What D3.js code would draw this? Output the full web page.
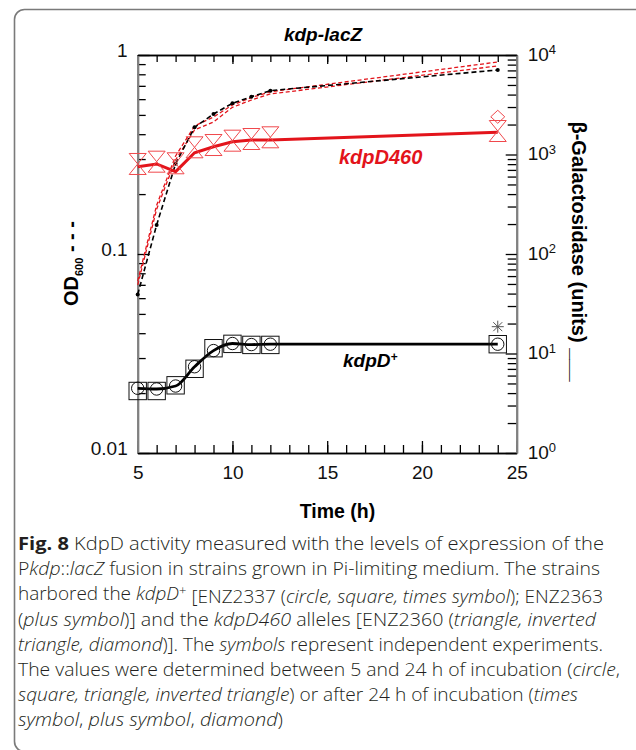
<!DOCTYPE html>
<html>
<head>
<meta charset="utf-8">
<script src="https://cdn.jsdelivr.net/npm/d3@7/dist/d3.min.js"></script>
<style>
  html, body { margin: 0; padding: 0; background: #fff; }
  svg { display: block; }
  .chart text { font-family: "Liberation Sans", Arial, sans-serif; }
  .cap text { font-family: "Open Sans", "Noto Sans", sans-serif; }
</style>
</head>
<body>
<svg id="fig" width="636" height="750"></svg>
<script>
// ---------------- data ----------------
const times = [5, 6, 7, 8, 9, 10, 11, 12, 24];

// OD600 (left axis)
const odWildType = [0.0626, 0.140, 0.284, 0.433, 0.505, 0.572, 0.617, 0.662, 0.841];
const odMutantA  = [0.0731, 0.176, 0.311, 0.440, 0.488, 0.561, 0.611, 0.654, 0.922];
const odMutantB  = [0.0699, 0.168, 0.297, 0.420, 0.461, 0.546, 0.594, 0.637, 0.881];

// beta-Galactosidase units (right axis), kdpD+
const galWildCircle = [4.47, 4.40, 4.71, 7.36, 10.7, 12.6, 12.3, 12.4, 12.4];
const galWildSquare = [4.20, 4.20, 4.79, 7.02, 11.3, 12.5, 12.2, 12.2, 12.4];
const galWildLate = [{ t: 24, v: 18.6 }];   // times symbol + plus symbol

// beta-Galactosidase units (right axis), kdpD460
const galMutantLine = [754, 803, 672, 1042, 1197, 1343, 1400, 1400, 1671];
const galMutantTri  = [803, 847, 816, 1181, 1245, 1377, 1431, 1489, 1722];
const galMutantInv  = [803, 847, 816, 1181, 1245, 1377, 1431, 1489, 1722];
const galMutantLate = [{ t: 24, v: 2393 }]; // diamond

const xTickLabels = [5, 10, 15, 20, 25];
const odTickLabels = [1, 0.1, 0.01];
const galTickLabels = [1, 10, 100, 1000, 10000];

const captionLines = [
  [["b", "Fig. 8"], ["n", "  KdpD activity measured with the levels of expression of the"]],
  [["n", "P"], ["i", "kdp"], ["n", "::"], ["i", "lacZ"], ["n", " fusion in strains grown in Pi-limiting medium. The strains"]],
  [["n", "harbored the "], ["i", "kdpD"], ["sup", "+"], ["n", " [ENZ2337 ("], ["i", "circle, square, times symbol"], ["n", "); ENZ2363"]],
  [["n", "("], ["i", "plus symbol"], ["n", ")] and the "], ["i", "kdpD460"], ["n", " alleles [ENZ2360 ("], ["i", "triangle, inverted"]],
  [["i", "triangle, diamond"], ["n", ")]. The "], ["i", "symbols"], ["n", " represent independent experiments."]],
  [["n", "The values were determined between 5 and 24 h of incubation ("], ["i", "circle"], ["n", ","]],
  [["i", "square, triangle, inverted triangle"], ["n", ") or after 24 h of incubation ("], ["i", "times"]],
  [["i", "symbol"], ["n", ", "], ["i", "plus symbol"], ["n", ", "], ["i", "diamond"], ["n", ")"]]
];
const captionWidths = [586, 582, 585, 578, 585, 602, 560, 265];

// ---------------- layout ----------------
const svg = d3.select("#fig");
const L = 137.7, R = 516.7, T = 55, B = 453;
const RED = "#e3141b";

// frame
svg.append("rect")
  .attr("x", 14.5).attr("y", 9.5).attr("width", 700).attr("height", 742)
  .attr("rx", 10).attr("ry", 10)
  .attr("fill", "none").attr("stroke", "#7a7a7a").attr("stroke-width", 1.6);

const chart = svg.append("g").attr("class", "chart");

const x = d3.scaleLinear().domain([5, 25]).range([L, R]);
const yL = d3.scaleLog().domain([0.01, 1]).range([B, T]);
const yR = d3.scaleLog().domain([1, 1e4]).range([B, T]);

function logMinors(d0, d1) {
  const out = [];
  for (let e = d0; e < d1; e++) for (let m = 2; m <= 9; m++) out.push(m * Math.pow(10, e));
  return out;
}
const hoursAll = d3.range(5, 26, 1);

function styleAxis(g, color, width) {
  g.select(".domain").attr("stroke", color).attr("stroke-width", width);
  g.selectAll(".tick line").attr("stroke", "#000").attr("stroke-width", 1.3);
}

// bottom axis
const gB1 = chart.append("g").attr("transform", `translate(0,${B})`)
  .call(d3.axisBottom(x).tickValues(hoursAll).tickSizeInner(-8).tickSizeOuter(0).tickFormat(""));
styleAxis(gB1, "#000", 1.6);
const gB2 = chart.append("g").attr("transform", `translate(0,${B})`)
  .call(d3.axisBottom(x).tickValues(xTickLabels).tickSizeInner(-12).tickSizeOuter(0).tickPadding(13).tickFormat(d3.format("d")));
styleAxis(gB2, "#000", 1.6);
gB2.selectAll(".tick text").attr("font-size", "19px").attr("fill", "#111");

// top axis
const gT1 = chart.append("g").attr("transform", `translate(0,${T})`)
  .call(d3.axisTop(x).tickValues(hoursAll).tickSizeInner(-7).tickSizeOuter(0).tickFormat(""));
styleAxis(gT1, "#000", 1.6);
const gT2 = chart.append("g").attr("transform", `translate(0,${T})`)
  .call(d3.axisTop(x).tickValues(xTickLabels).tickSizeInner(-9).tickSizeOuter(0).tickFormat(""));
styleAxis(gT2, "#000", 1.6);

// left axis
const gL1 = chart.append("g").attr("transform", `translate(${L},0)`)
  .call(d3.axisLeft(yL).tickValues(logMinors(-2, 0)).tickSizeInner(-8).tickSizeOuter(0).tickFormat(""));
styleAxis(gL1, "#808080", 2);
const gL2 = chart.append("g").attr("transform", `translate(${L},0)`)
  .call(d3.axisLeft(yL).tickValues(odTickLabels).tickSizeInner(-12).tickSizeOuter(0).tickPadding(10)
    .tickFormat(d => d === 1 ? "1" : String(d)));
styleAxis(gL2, "#808080", 2);
gL2.selectAll(".tick text").attr("font-size", "19px").attr("fill", "#111").attr("dy", "0.1em");

// right axis
const gR1 = chart.append("g").attr("transform", `translate(${R},0)`)
  .call(d3.axisRight(yR).tickValues(logMinors(0, 4)).tickSizeInner(-9).tickSizeOuter(0).tickFormat(""));
styleAxis(gR1, "#808080", 2);
const gR2 = chart.append("g").attr("transform", `translate(${R},0)`)
  .call(d3.axisRight(yR).tickValues(galTickLabels).tickSizeInner(-11).tickSizeOuter(0).tickPadding(11).tickFormat(""));
styleAxis(gR2, "#808080", 2);
gR2.selectAll(".tick text").each(function (d) {
  const t = d3.select(this).attr("font-size", "19px").attr("fill", "#111").attr("dy", "0.28em");
  t.append("tspan").text("10");
  t.append("tspan").attr("dy", "-0.5em").attr("font-size", "13px").text(Math.round(Math.log10(d)));
});

// ---------------- series ----------------
const odLine = d3.line().x((d, i) => x(times[i])).y(d => yL(d));
chart.append("path").datum(odMutantA).attr("d", odLine)
  .attr("fill", "none").attr("stroke", RED).attr("stroke-width", 1.3).attr("stroke-dasharray", "4,2.5");
chart.append("path").datum(odMutantB).attr("d", odLine)
  .attr("fill", "none").attr("stroke", RED).attr("stroke-width", 1.3).attr("stroke-dasharray", "4,2.5");
chart.append("path").datum(odWildType).attr("d", odLine)
  .attr("fill", "none").attr("stroke", "#000").attr("stroke-width", 1.6).attr("stroke-dasharray", "5,3");
chart.append("g").selectAll("circle").data(odWildType).join("circle")
  .attr("cx", (d, i) => x(times[i])).attr("cy", d => yL(d)).attr("r", 2).attr("fill", "#000");

// beta-gal lines
chart.append("path").datum(galMutantLine)
  .attr("d", d3.line().x((d, i) => x(times[i])).y(d => yR(d)))
  .attr("fill", "none").attr("stroke", RED).attr("stroke-width", 3);
chart.append("path").datum(galWildCircle)
  .attr("d", d3.line().x((d, i) => x(times[i])).y(d => yR(d)).curve(d3.curveMonotoneX))
  .attr("fill", "none").attr("stroke", "#000").attr("stroke-width", 2.8);

// kdpD460 markers: inverted triangle (apex down) and triangle (apex up) -> hourglass
const HW = 8.5, HH = 10.5;
chart.append("g").selectAll("path").data(galMutantInv).join("path")
  .attr("d", (d, i) => {
    const cx = x(times[i]), cy = yR(d);
    return `M${cx},${cy}L${cx - HW},${cy - HH}L${cx + HW},${cy - HH}Z`;
  })
  .attr("fill", "none").attr("stroke", "#f0484c").attr("stroke-width", 1);
chart.append("g").selectAll("path").data(galMutantTri).join("path")
  .attr("d", (d, i) => {
    const cx = x(times[i]), cy = yR(d);
    return `M${cx},${cy}L${cx - HW},${cy + HH}L${cx + HW},${cy + HH}Z`;
  })
  .attr("fill", "none").attr("stroke", "#f0484c").attr("stroke-width", 1);
chart.append("g").selectAll("path").data(galMutantLate).join("path")
  .attr("d", d => {
    const cx = x(d.t), cy = yR(d.v);
    return `M${cx},${cy - 6.5}L${cx + 7},${cy}L${cx},${cy + 6.5}L${cx - 7},${cy}Z`;
  })
  .attr("fill", "none").attr("stroke", "#f0484c").attr("stroke-width", 1);

// kdpD+ markers
chart.append("g").selectAll("rect").data(galWildSquare).join("rect")
  .attr("x", (d, i) => x(times[i]) - 8.7).attr("y", d => yR(d) - 8.7)
  .attr("width", 17.4).attr("height", 17.4)
  .attr("fill", "none").attr("stroke", "#111").attr("stroke-width", 1);
chart.append("g").selectAll("circle").data(galWildCircle).join("circle")
  .attr("cx", (d, i) => x(times[i])).attr("cy", d => yR(d)).attr("r", 6.2)
  .attr("fill", "none").attr("stroke", "#111").attr("stroke-width", 1);
chart.append("g").selectAll("path").data(galWildLate).join("path")
  .attr("d", d => {
    const cx = x(d.t), cy = yR(d.v), s = 6;
    return `M${cx - s},${cy}L${cx + s},${cy}M${cx},${cy - s}L${cx},${cy + s}` +
      `M${cx - 4.5},${cy - 4.5}L${cx + 4.5},${cy + 4.5}M${cx - 4.5},${cy + 4.5}L${cx + 4.5},${cy - 4.5}`;
  })
  .attr("fill", "none").attr("stroke", "#555").attr("stroke-width", 1);

// ---------------- text ----------------
chart.append("text").attr("x", 323).attr("y", 40.5).attr("text-anchor", "middle")
  .attr("font-size", "19px").attr("font-weight", "bold").attr("font-style", "italic").text("kdp-lacZ");

chart.append("text").attr("x", 339).attr("y", 163.5)
  .attr("font-size", "20px").attr("font-weight", "bold").attr("font-style", "italic")
  .attr("fill", RED).text("kdpD460");

const wt = chart.append("text").attr("x", 343).attr("y", 367)
  .attr("font-size", "19px").attr("font-weight", "bold").attr("font-style", "italic");
wt.append("tspan").text("kdpD");
wt.append("tspan").attr("dy", "-0.5em").attr("font-size", "12px").text("+");

chart.append("text").attr("x", 337.5).attr("y", 518).attr("text-anchor", "middle")
  .attr("font-size", "19.5px").attr("font-weight", "bold").text("Time (h)");

const od = chart.append("text").attr("transform", "translate(78,263.5) rotate(-90)")
  .attr("text-anchor", "middle").attr("font-size", "20px").attr("font-weight", "bold");
od.append("tspan").text("OD");
od.append("tspan").attr("dy", 5).attr("font-size", "11px").text("600");
od.append("tspan").attr("dy", -5).text(" - - -");

chart.append("text").attr("transform", "translate(572,251.5) rotate(90)")
  .attr("text-anchor", "middle").attr("font-size", "20px").attr("font-weight", "bold")
  .text("β-Galactosidase (units) ___");

// ---------------- caption ----------------
const cap = svg.append("g").attr("class", "cap");
captionLines.forEach((parts, li) => {
  const t = cap.append("text").attr("x", 18).attr("y", 550 + li * 25.2)
    .attr("font-size", "17.5px").attr("font-weight", 300).attr("fill", "#231f20")
    .attr("textLength", captionWidths[li]).attr("lengthAdjust", "spacingAndGlyphs");
  parts.forEach(([k, s]) => {
    const sp = t.append("tspan").text(s);
    if (k === "b") sp.attr("font-weight", "bold");
    if (k === "i") sp.attr("font-style", "italic");
    if (k === "sup") sp.attr("dy", "-0.45em").attr("font-size", "12px");
  });
  // reset baseline after superscript
  t.selectAll("tspan").each(function (d, j, nodes) {
    if (j > 0 && d3.select(nodes[j - 1]).attr("dy") === "-0.45em") d3.select(this).attr("dy", "0.45em");
  });
});
</script>
</body>
</html>
